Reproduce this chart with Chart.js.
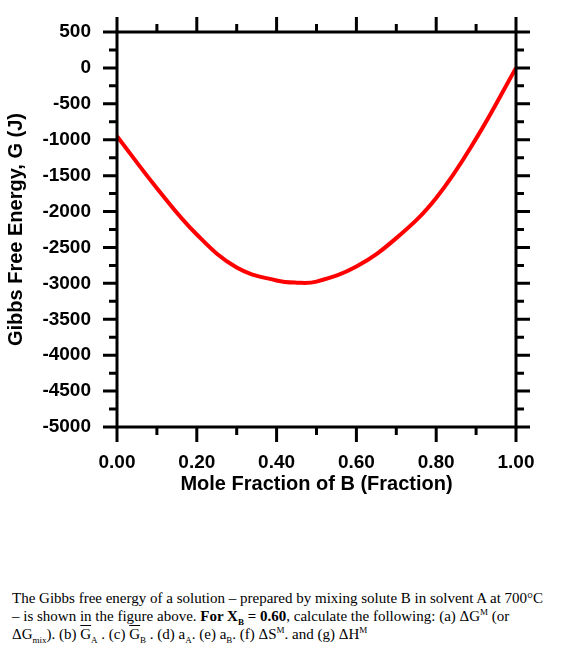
<!DOCTYPE html>
<html>
<head>
<meta charset="utf-8">
<script src="https://cdn.jsdelivr.net/npm/chart.js@4"></script>
<style>
  body { margin: 0; background: #fff; width: 562px; height: 646px; overflow: hidden; }
  #wrap { position: absolute; left: 0; top: 0; width: 562px; height: 500px; }
  #txt { position: absolute; left: 12px; top: 589px; width: 540px;
         font-family: "Liberation Serif", "DejaVu Serif", serif; font-size: 15px; line-height: 18px; color: #000; }
  .ov { text-decoration: overline; }
  sub, sup { font-size: 9px; line-height: 0; }
</style>
</head>
<body>
<div id="wrap"><canvas id="chart" width="562" height="500"></canvas></div>
<div id="txt">The Gibbs free energy of a solution &ndash; prepared by mixing solute B in solvent A at 700&deg;C &ndash; is shown in the figure above. <b>For X<sub>B</sub> = 0.60</b>, calculate the following: (a) &Delta;G<sup>M</sup> (or &Delta;G<sub>mix</sub>). (b) <span class="ov">G</span><sub>A</sub> . (c) <span class="ov">G</span><sub>B</sub> . (d) a<sub>A</sub>. (e) a<sub>B</sub>. (f) &Delta;S<sup>M</sup>. and (g) &Delta;H<sup>M</sup></div>
<script>
// Valores
const moleFraction = [0.0, 0.1, 0.2, 0.3, 0.4, 0.45, 0.5, 0.6, 0.7, 0.8, 0.9, 1.0];
const gibbsEnergy = [-950, -1675, -2320, -2780, -2960, -2990, -2975, -2765, -2370, -1810, -985, 0];

const yMin = -5000, yMax = 500;
const labelFont = { family: '"Liberation Sans", Arial, sans-serif', size: 19, weight: 'bold' };
const titleFont = { family: '"Liberation Sans", Arial, sans-serif', size: 20, weight: 'bold' };

// Marcas de graduación que cruzan los cuatro bordes
const tickPlugin = {
    id: 'ticks',
    afterDraw(chart) {
        const ctx = chart.ctx;
        const a = chart.chartArea;
        const ys = chart.scales.y, xs = chart.scales.x;
        ctx.save();
        ctx.strokeStyle = '#000';
        ctx.lineWidth = 3;
        ctx.strokeRect(a.left, a.top, a.right - a.left, a.bottom - a.top);
        for (let v = yMin; v <= yMax; v += 250) {
            const p = ys.getPixelForValue(v);
            const len = (v % 500 === 0) ? 14 : 8;
            ctx.beginPath();
            ctx.moveTo(a.left - len, p); ctx.lineTo(a.left, p);
            ctx.moveTo(a.right, p); ctx.lineTo(a.right + len, p);
            ctx.stroke();
        }
        for (let i = 0; i <= 10; i++) {
            const p = xs.getPixelForValue(i / 10);
            const len = (i % 2 === 0) ? 15 : 8;
            ctx.beginPath();
            ctx.moveTo(p, a.top - len); ctx.lineTo(p, a.top);
            ctx.moveTo(p, a.bottom); ctx.lineTo(p, a.bottom + len);
            ctx.stroke();
        }
        ctx.restore();
    }
};

new Chart(document.getElementById('chart'), {
    type: 'line',
    data: {
        datasets: [{
            data: moleFraction.map((x, i) => ({ x: x, y: gibbsEnergy[i] })),
            borderColor: '#ff0000',
            borderWidth: 4,
            pointRadius: 0,
            tension: 0.4,
            fill: false
        }]
    },
    plugins: [tickPlugin],
    options: {
        responsive: false,
        animation: false,
        layout: { padding: 0 },
        plugins: { legend: { display: false }, tooltip: { enabled: false } },
        scales: {
            x: {
                type: 'linear', position: 'bottom', min: 0, max: 1,
                afterFit: s => { s.height = 73; },
                grid: { display: false },
                border: { display: false },
                ticks: {
                    stepSize: 0.1, autoSkip: false, maxRotation: 0, padding: 16,
                    color: '#000', font: labelFont,
                    callback: v => (Math.round(v * 10) % 2 === 0) ? v.toFixed(2) : ''
                },
                title: { display: true, text: 'Mole Fraction of B (Fraction)', color: '#000', font: titleFont, padding: { top: 0 } }
            },
            x2: {
                type: 'linear', position: 'top', min: 0, max: 1,
                afterFit: s => { s.height = 32; },
                grid: { display: false }, border: { display: false }, ticks: { display: false }
            },
            y: {
                type: 'linear', position: 'left', min: yMin, max: yMax,
                afterFit: s => { s.width = 117; },
                grid: { display: false },
                border: { display: false },
                ticks: {
                    stepSize: 250, autoSkip: false, padding: 18,
                    color: '#000', font: labelFont,
                    callback: v => (v % 500 === 0) ? String(v) : ''
                },
                title: { display: true, text: 'Gibbs Free Energy, G (J)', color: '#000', font: titleFont, padding: { bottom: 0 } }
            },
            y2: {
                type: 'linear', position: 'right', min: yMin, max: yMax,
                afterFit: s => { s.width = 46; },
                grid: { display: false }, border: { display: false }, ticks: { display: false }
            }
        }
    }
});
</script>
</body>
</html>
